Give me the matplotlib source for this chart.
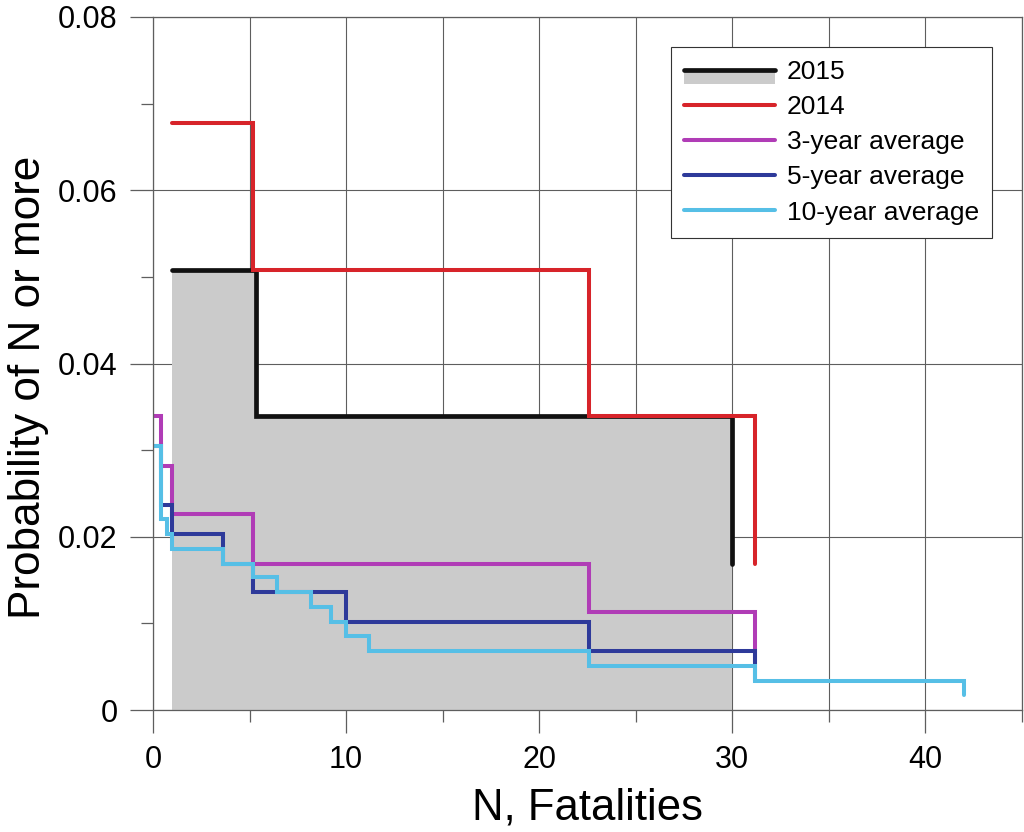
import matplotlib
matplotlib.use("Agg")
import matplotlib.pyplot as plt
from matplotlib.lines import Line2D
from matplotlib.patches import Rectangle
from matplotlib.legend_handler import HandlerBase
from matplotlib.ticker import MultipleLocator, FuncFormatter

plt.rcParams["font.family"] = ["Liberation Sans", "DejaVu Sans"]

# step points: N where the curve steps, P(N or more) from there on
n_2015 = [1.0, 5.35, 30.0]
p_2015 = [0.0508, 0.0339, 0.0169]

n_2014 = [1.0, 5.17, 22.6, 31.2]
p_2014 = [0.0678, 0.0508, 0.0339, 0.0169]

n_3yr = [0.0, 0.43, 1.0, 5.2, 22.6, 31.2]
p_3yr = [0.0339, 0.0282, 0.0226, 0.0169, 0.0113, 0.0056]

n_5yr = [0.0, 0.4, 1.0, 3.6, 5.2, 10.0, 22.6, 31.2]
p_5yr = [0.0305, 0.0237, 0.0203, 0.0169, 0.0136, 0.0102, 0.0068, 0.0034]

n_10yr = [0.0, 0.4, 0.7, 1.0, 3.6, 5.2, 6.4, 8.2, 9.2, 10.0, 11.2, 22.6, 31.2, 42.0]
p_10yr = [0.0305, 0.0220, 0.0203, 0.0186, 0.0169, 0.0153, 0.0136, 0.0119,
          0.0102, 0.0085, 0.0068, 0.0051, 0.0034, 0.0017]

labels = ["2015", "2014", "3-year average", "5-year average", "10-year average"]
colors = ["#111111", "#d7242a", "#b03cb6", "#2e3a9a", "#56bfe6"]
fill_color = "#cbcbcb"
grid_color = "#5e5e5e"


class LineOverPatch(HandlerBase):
    # black line with the grey band just under it (legend entry for 2015)
    def create_artists(self, legend, orig_handle, xdescent, ydescent,
                       width, height, fontsize, trans):
        yc = height / 2 - ydescent
        rect = Rectangle((-xdescent, yc - 0.55 * fontsize), width, 0.5 * fontsize,
                         facecolor=fill_color, edgecolor="none", transform=trans)
        line = Line2D([-xdescent, -xdescent + width], [yc, yc], color=colors[0],
                      lw=3.4, solid_capstyle="round", transform=trans)
        return [rect, line]


fig = plt.figure(figsize=(10.24, 8.32), dpi=100)
ax = fig.add_axes([0.1494, 0.1466, 0.8486, 0.833])
ax.set_axisbelow(True)

ax.fill_between(n_2015, p_2015, step="post", color=fill_color, lw=0)

series = [(n_2015, p_2015, 3.4), (n_2014, p_2014, 2.9), (n_3yr, p_3yr, 2.9),
          (n_5yr, p_5yr, 2.9), (n_10yr, p_10yr, 2.9)]
handles = []
for (n, p, lw), c, lab in zip(series, colors, labels):
    h, = ax.plot(n, p, drawstyle="steps-post", color=c, lw=lw, label=lab,
                 solid_capstyle="round", solid_joinstyle="miter")
    handles.append(h)

ax.set_xlim(0, 45)
ax.set_ylim(0, 0.08)
ax.xaxis.set_major_locator(MultipleLocator(10))
ax.xaxis.set_minor_locator(MultipleLocator(5))
ax.yaxis.set_major_locator(MultipleLocator(0.02))
ax.yaxis.set_minor_locator(MultipleLocator(0.01))
ax.yaxis.set_major_formatter(FuncFormatter(lambda v, _: "0" if abs(v) < 1e-9 else f"{v:.2f}"))

ax.grid(True, which="major", axis="y", color=grid_color, lw=0.8)
ax.grid(True, which="both", axis="x", color=grid_color, lw=0.8)
for s in ax.spines.values():
    s.set_color(grid_color)
    s.set_linewidth(0.9)

ax.tick_params(which="major", length=16.5, width=0.9, color=grid_color,
               labelsize=22, pad=9)
ax.tick_params(which="minor", length=8.7, width=0.9, color=grid_color)

ax.set_xlabel("N, Fatalities", fontsize=31.5)
ax.set_ylabel("Probability of N or more", fontsize=31.8)
ax.xaxis.set_label_coords(0.5, -0.112)
ax.yaxis.set_label_coords(-0.12, 0.465)

handles[0] = Rectangle((0, 0), 1, 1)  # drawn by LineOverPatch
leg = ax.legend(handles, labels, loc="upper right", bbox_to_anchor=(0.9655, 0.9567),
                borderaxespad=0, fontsize=19, handlelength=3.45, handletextpad=0.45,
                labelspacing=0.42, borderpad=0.5, fancybox=False, framealpha=1,
                edgecolor="#333333", handler_map={Rectangle: LineOverPatch()})
leg.get_frame().set_linewidth(0.8)

fig.savefig("out.png", dpi=100)
